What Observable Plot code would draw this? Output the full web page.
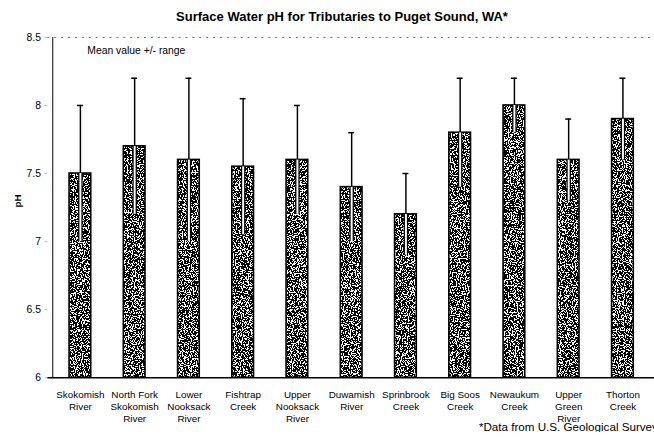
<!DOCTYPE html>
<html><head><meta charset="utf-8">
<script src="https://cdn.jsdelivr.net/npm/d3@7"></script>
<script src="https://cdn.jsdelivr.net/npm/@observablehq/plot@0.6"></script>
<style>
html,body{margin:0;padding:0;background:#fff;overflow:hidden;}
#wrap{position:relative;width:654px;height:438px;overflow:hidden;font-family:"Liberation Sans",Arial,sans-serif;}
#title{position:absolute;left:0;top:9px;width:684px;text-align:center;font-size:13px;font-weight:bold;color:#000;}
#chart{position:absolute;left:0;top:30px;}
</style></head>
<body>
<div id="wrap"><div id="title">Surface Water pH for Tributaries to Puget Sound, WA*</div><div id="chart"></div></div>
<script>
const names = ["Skokomish River","North Fork Skokomish River","Lower Nooksack River","Fishtrap Creek","Upper Nooksack River","Duwamish River","Sprinbrook Creek","Big Soos Creek","Newaukum Creek","Upper Green River","Thorton Creek"];
const tickLabels = ["Skokomish\nRiver","North Fork\nSkokomish\nRiver","Lower\nNooksack\nRiver","Fishtrap\nCreek","Upper\nNooksack\nRiver","Duwamish\nRiver","Sprinbrook\nCreek","Big Soos\nCreek","Newaukum\nCreek","Upper\nGreen\nRiver","Thorton\nCreek"];
const means = [7.5,7.7,7.6,7.55,7.6,7.4,7.2,7.8,8.0,7.6,7.9];
const highs = [8.0,8.2,8.2,8.05,8.0,7.8,7.5,8.2,8.2,7.9,8.2];
const lows  = [7.0,7.2,7.0,7.05,7.2,7.0,6.9,7.4,7.8,7.3,7.6];
const yTicks = [6,6.5,7,7.5,8,8.5];

const data = names.map((n,i)=>({name:n, mean:means[i], hi:highs[i], lo:lows[i]}));
const labelOf = new Map(names.map((n,i)=>[n,tickLabels[i]]));

const defs = () => {
  const g = d3.create("svg:defs");
  const f = g.append("filter").attr("id","stipple").attr("x",0).attr("y",0).attr("width",1).attr("height",1)
    .attr("filterUnits","objectBoundingBox");
  f.append("feTurbulence").attr("type","fractalNoise").attr("baseFrequency","0.85").attr("numOctaves",2).attr("seed",3).attr("result","noise");
  f.append("feColorMatrix").attr("in","noise").attr("type","matrix")
    .attr("values","0 0 0 0 0  0 0 0 0 0  0 0 0 0 0  -2.2 0 0 0 1.68").attr("result","dots");
  const ct = f.append("feComponentTransfer").attr("in","dots").attr("result","bin");
  ct.append("feFuncA").attr("type","discrete").attr("tableValues","0 1");
  f.append("feFlood").attr("flood-color","#fff").attr("result","white");
  f.append("feComposite").attr("in","white").attr("in2","SourceGraphic").attr("operator","in").attr("result","bg");
  f.append("feComposite").attr("in","bin").attr("in2","SourceGraphic").attr("operator","in").attr("result","fg");
  const m = f.append("feMerge");
  m.append("feMergeNode").attr("in","bg");
  m.append("feMergeNode").attr("in","fg");
  return g.node();
};

const chart = Plot.plot({
  width: 663, height: 408,
  marginLeft: 48, marginRight: 0, marginTop: 7, marginBottom: 56,
  style: {fontFamily: "'Liberation Sans', Arial, sans-serif", color: "#000", background: "#fff"},
  x: {domain: names, paddingInner: 0.6, paddingOuter: 0.3},
  y: {domain: [6, 8.5]},
  marks: [
    defs,
    Plot.ruleY([8.5], {stroke: "#000", strokeOpacity: 0.6, strokeDasharray: "2,5"}),
    Plot.barY(data, {x: "name", y1: () => 6, y2: "mean", fill: "#000",
      render: (i, s, v, d, c, next) => { const g = next(i, s, v, d, c); d3.select(g).selectAll("rect").attr("filter","url(#stipple)"); return g; }}),
    Plot.barY(data, {x: "name", y1: () => 6, y2: "mean", fill: "none", stroke: "#000", strokeWidth: 1.6}),
    Plot.ruleX(data, {x: "name", y1: "lo", y2: "mean", stroke: "#000", strokeWidth: 4.5}),
    Plot.ruleX(data, {x: "name", y1: "lo", y2: "mean", stroke: "#fff", strokeWidth: 2}),
    Plot.ruleX(data, {x: "name", y1: "mean", y2: "hi", stroke: "#000", strokeWidth: 1.5}),
    Plot.tickY(data, {x: "name", y: "hi", stroke: "#000", strokeWidth: 1.5, inset: 8}),
    Plot.ruleX([6], {x: () => names[0], dx: -28, y1: 6, y2: 8.5, stroke: "#000", strokeWidth: 1}),
    Plot.ruleY([6], {stroke: "#000", strokeWidth: 1.5}),
    Plot.axisY({ticks: yTicks, tickFormat: d => String(d), tickSize: 3, tickPadding: 4, fontSize: 10.5,
      stroke: "#000", strokeWidth: 0.25, label: null}),
    Plot.text(["pH"], {frameAnchor: "left", dx: -30, rotate: -90, fontSize: 10, fontWeight: "bold"}),
    Plot.axisX({tickSize: 0, tickPadding: 12, fontSize: 10, lineHeight: 1.2, tickFormat: d => labelOf.get(d), label: null,
      stroke: "#000", strokeWidth: 0.3}),
    Plot.text(["Mean value +/- range"], {frameAnchor: "top-left", dx: 40, dy: 9, textAnchor: "start", fontSize: 10.5}),
    Plot.text(["*Data from U.S. Geological Survey"], {frameAnchor: "bottom-left", dx: 437, dy: 54, textAnchor: "start", fontSize: 11.8})
  ]
});
document.getElementById("chart").appendChild(chart);
</script>
</body></html>
